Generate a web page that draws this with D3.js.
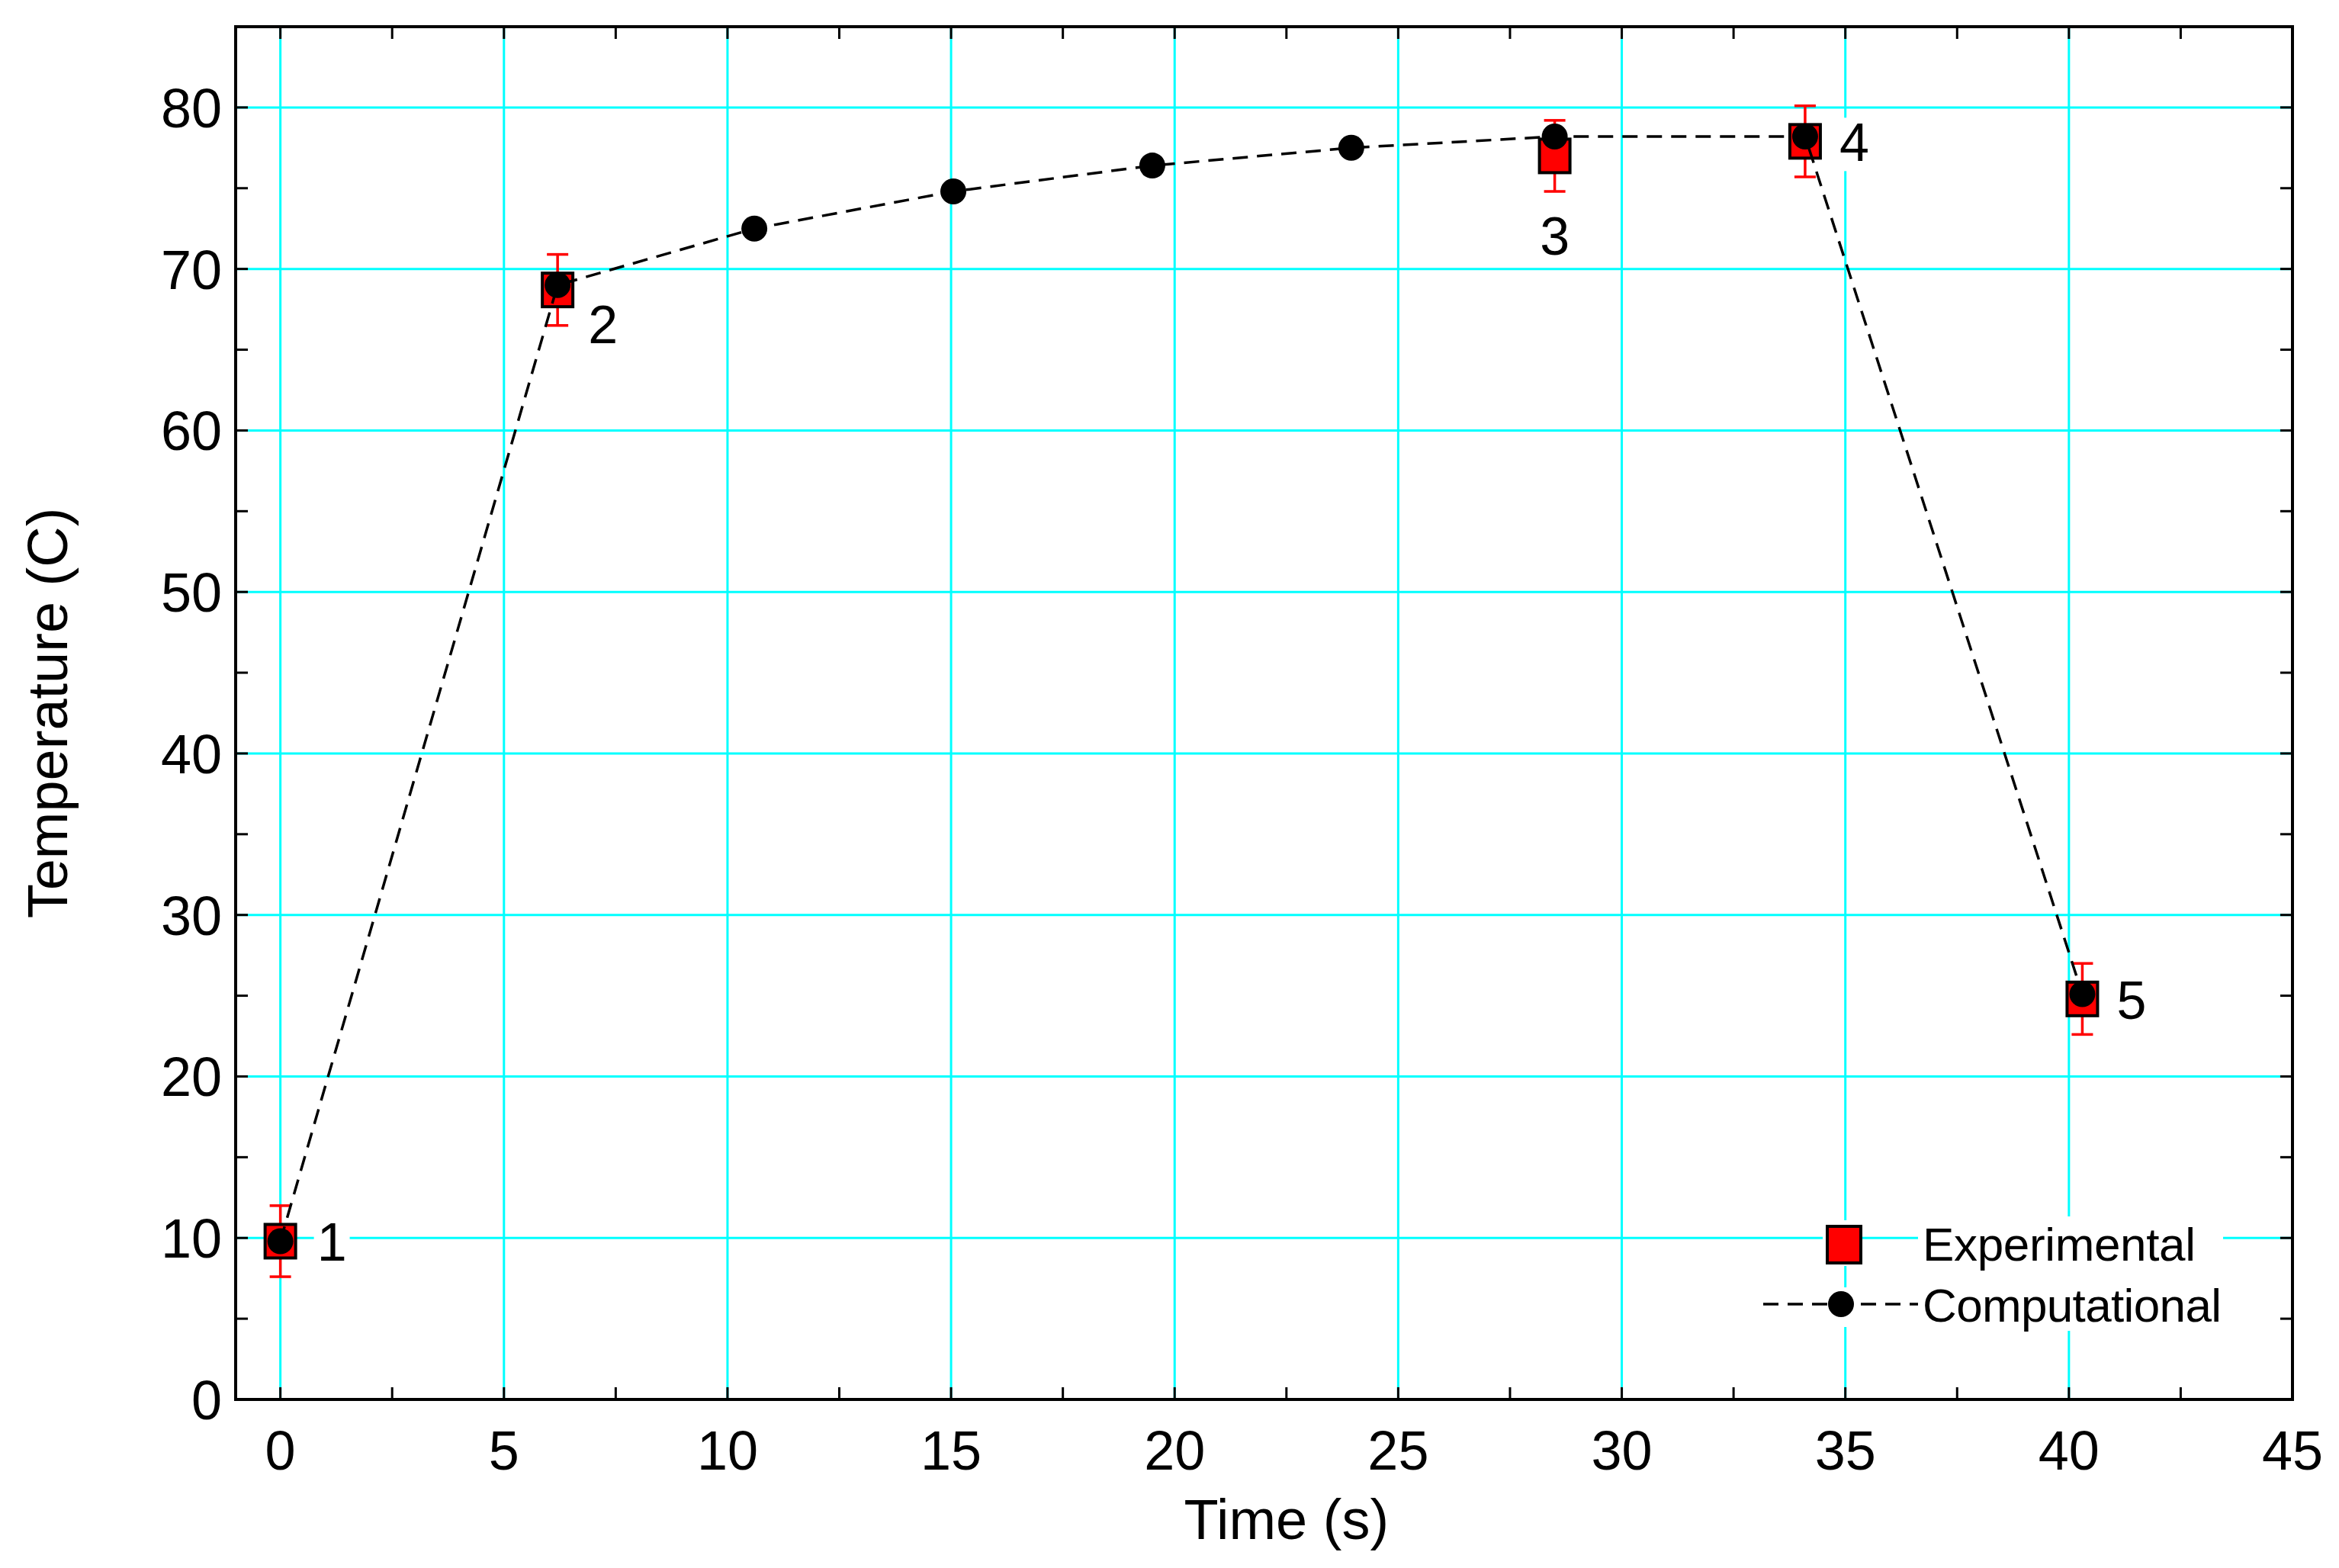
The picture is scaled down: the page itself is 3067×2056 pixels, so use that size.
<!DOCTYPE html>
<html><head><meta charset="utf-8">
<script src="https://cdn.jsdelivr.net/npm/d3@7"></script>
<style>body{margin:0;background:#fff}</style></head>
<body><svg id="c" width="3067" height="2056"></svg>
<script>
const expX=[0,6.2,28.5,34.1,40.3];
const expY=[9.8,68.7,77.0,77.9,24.8];
const expErr=[2.2,2.2,2.2,2.2,2.2];
const compX=[0,6.2,10.6,15.05,19.5,23.95,28.5,34.1,40.3];
const compY=[9.8,69.0,72.5,74.8,76.4,77.5,78.2,78.2,25.1];
const ptLabels=["1","2","3","4","5"];
const xTicks=[0,5,10,15,20,25,30,35,40,45];
const yTicks=[0,10,20,30,40,50,60,70,80];

const svg=d3.select("#c");
const L=309,R=3006,T=35,B=1835;
const x=d3.scaleLinear().domain([-1,45]).range([L,R]);
const y=d3.scaleLinear().domain([0,85]).range([B,T]);
const font="Liberation Sans, Arial, sans-serif";
const cyan="#00ffff";

svg.append("g").selectAll("line").data(xTicks).join("line")
 .attr("x1",d=>x(d)).attr("x2",d=>x(d)).attr("y1",T).attr("y2",B).attr("stroke",cyan).attr("stroke-width",3);
svg.append("g").selectAll("line").data(yTicks).join("line")
 .attr("y1",d=>y(d)).attr("y2",d=>y(d)).attr("x1",L).attr("x2",R).attr("stroke",cyan).attr("stroke-width",3);

const lg=svg.append("g");
lg.append("rect").attr("x",2390).attr("y",1600).attr("width",50).attr("height",60).attr("fill","#fff");
lg.append("rect").attr("x",2515).attr("y",1595).attr("width",400).attr("height",150).attr("fill","#fff");
lg.append("rect").attr("x",2310).attr("y",1688).attr("width",210).attr("height",52).attr("fill","#fff");

const minorX=d3.range(0,45.01,2.5), minorY=d3.range(0,85.01,5);
const tick=(g,vals,isX,pos,dir,len)=>{
  g.selectAll(null).data(vals).join("line").each(function(d){
    const s=d3.select(this);
    if(isX) s.attr("x1",x(d)).attr("x2",x(d)).attr("y1",pos).attr("y2",pos+dir*len);
    else s.attr("y1",y(d)).attr("y2",y(d)).attr("x1",pos).attr("x2",pos+dir*len);
  }).attr("stroke","#000").attr("stroke-width",3);
};
const ax=svg.append("g");
tick(ax,minorX,true,B,-1,16);tick(ax,minorX,true,T,1,16);
tick(ax,minorY,false,L,1,16);tick(ax,minorY,false,R,-1,16);
ax.append("rect").attr("x",L).attr("y",T).attr("width",R-L).attr("height",B-T).attr("fill","none").attr("stroke","#000").attr("stroke-width",4);

svg.append("g").selectAll("text").data(xTicks).join("text")
 .attr("x",d=>x(d)).attr("y",B+92).attr("text-anchor","middle").attr("font-family",font).attr("font-size",72).text(d=>d);
svg.append("g").selectAll("text").data(yTicks).join("text")
 .attr("x",L-18).attr("y",d=>y(d)+26).attr("text-anchor","end").attr("font-family",font).attr("font-size",72).text(d=>d);
svg.append("text").attr("x",x(22.5)).attr("y",2018).attr("text-anchor","middle").attr("font-family",font).attr("font-size",74).text("Time (s)");
svg.append("text").attr("transform",`translate(88,${(T+B)/2}) rotate(-90)`).attr("text-anchor","middle").attr("font-family",font).attr("font-size",74).text("Temperature (C)");

const lblOff=[[48,26],[40,70],[0,130],[45,26],[45,26]];
const lb=svg.append("g");
expX.forEach((d,i)=>{
  const tx=x(d)+lblOff[i][0], ty=y(expY[i])+lblOff[i][1];
  const t=lb.append("text").attr("x",tx).attr("y",ty).attr("text-anchor",i==2?"middle":"start")
    .attr("font-family",font).attr("font-size",70).text(ptLabels[i]);
  const bb=t.node().getBBox();
  lb.insert("rect","text").attr("x",bb.x-4).attr("y",bb.y+6).attr("width",bb.width+8).attr("height",bb.height-8).attr("fill","#fff");
});

const eb=svg.append("g").attr("stroke","#ff0000").attr("stroke-width",3.5);
expX.forEach((d,i)=>{
  eb.append("line").attr("x1",x(d)).attr("x2",x(d)).attr("y1",y(expY[i]-expErr[i])).attr("y2",y(expY[i]+expErr[i]));
  [-1,1].forEach(s=>eb.append("line").attr("x1",x(d)-14).attr("x2",x(d)+14).attr("y1",y(expY[i]+s*expErr[i])).attr("y2",y(expY[i]+s*expErr[i])));
});
svg.append("g").selectAll("rect").data(expX).join("rect")
 .attr("x",d=>x(d)-20).attr("y",(d,i)=>y(expY[i])-22).attr("width",40).attr("height",44)
 .attr("fill","#ff0000").attr("stroke","#000").attr("stroke-width",4);
const line=d3.line().x(d=>x(d[0])).y(d=>y(d[1]));
svg.append("path").datum(compX.map((d,i)=>[d,compY[i]])).attr("d",line)
 .attr("fill","none").attr("stroke","#000").attr("stroke-width",3.5).attr("stroke-dasharray","20,12");
svg.append("g").selectAll("circle").data(compX).join("circle")
 .attr("cx",d=>x(d)).attr("cy",(d,i)=>y(compY[i])).attr("r",17).attr("fill","#000");

lg.append("rect").attr("x",2396).attr("y",1608).attr("width",44).attr("height",48).attr("fill","#ff0000").attr("stroke","#000").attr("stroke-width",4);
lg.append("text").attr("x",2521).attr("y",1653).attr("font-family",font).attr("font-size",62).attr("textLength",358).text("Experimental");
lg.append("line").attr("x1",2312).attr("x2",2515).attr("y1",1710).attr("y2",1710).attr("stroke","#000").attr("stroke-width",3.5).attr("stroke-dasharray","20,12");
lg.append("circle").attr("cx",2414).attr("cy",1710).attr("r",17).attr("fill","#000");
lg.append("text").attr("x",2521).attr("y",1733).attr("font-family",font).attr("font-size",62).attr("textLength",392).text("Computational");
</script></body></html>
